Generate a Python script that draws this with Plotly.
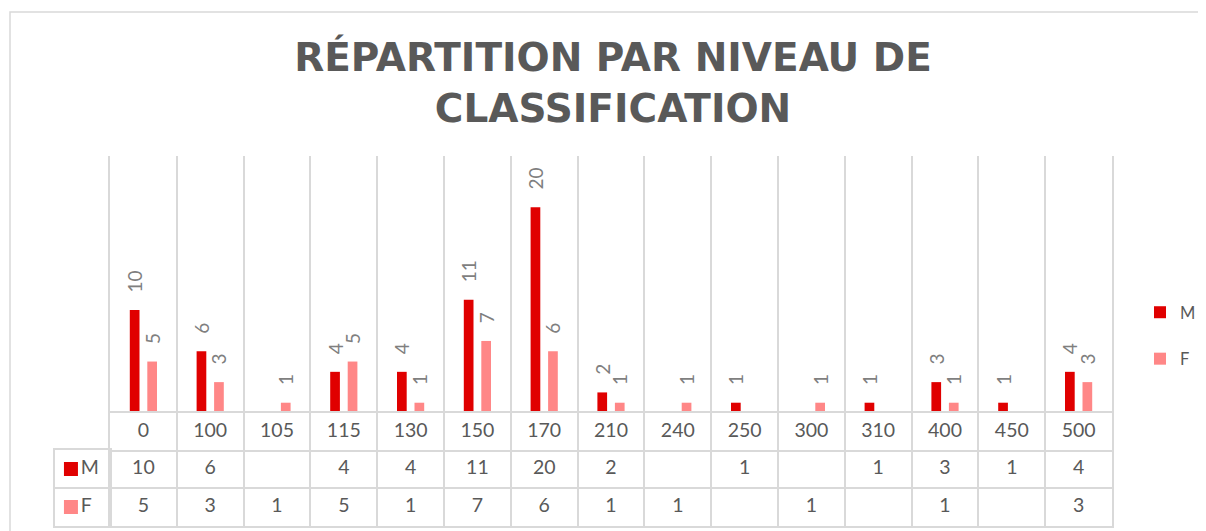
import plotly.graph_objects as go

# ---- data ----
categories = ["0", "100", "105", "115", "130", "150", "170", "210", "240", "250", "300", "310", "400", "450", "500"]
m_values = [10, 6, None, 4, 4, 11, 20, 2, None, 1, None, 1, 3, 1, 4]
f_values = [5, 3, 1, 5, 1, 7, 6, 1, 1, None, 1, None, 1, None, 3]
series_names = ["M", "F"]
title_text = "RÉPARTITION PAR NIVEAU DE<br>CLASSIFICATION"

# ---- style ----
W, H = 1206, 531
OFF = 8  # page body margin
COL_M = "#E00000"
COL_F = "#FF8787"
GRID = "#D9D9D9"
TXT = "#595959"
LBL = "#7F7F7F"
FONT = "Lato"


def fx(px):
    return (px - OFF) / W


def fy(py):
    return 1 - (py - OFF) / H


pad = "\u00a0" * 3


def labels(vals):
    return [pad + str(v) if v is not None else "" for v in vals]


fig = go.Figure()

for name, vals, col in [(series_names[0], m_values, COL_M), (series_names[1], f_values, COL_F)]:
    fig.add_trace(go.Bar(
        x=categories, y=vals, name=name, marker=dict(color=col, line=dict(width=0)),
        text=labels(vals), textposition="outside", textangle=-90,
        constraintext="none", cliponaxis=False,
        outsidetextfont=dict(family=FONT, size=19, color=LBL),
        legendgroup=name, xaxis="x", yaxis="y", hoverinfo="x+y+name",
    ))

# ---- data table ----
row_cat = "Niveau"
fig.add_trace(go.Scatter(
    x=categories, y=[row_cat] * len(categories), text=categories, mode="text",
    textfont=dict(family=FONT, size=19.5, color=TXT), xaxis="x2", yaxis="y2",
    showlegend=False, hoverinfo="skip"))
for name, vals in [(series_names[0], m_values), (series_names[1], f_values)]:
    xs = [c for c, v in zip(categories, vals) if v is not None]
    ts = [str(v) for v in vals if v is not None]
    fig.add_trace(go.Scatter(
        x=xs, y=[name] * len(xs), text=ts, mode="text",
        textfont=dict(family=FONT, size=19.5, color=TXT), xaxis="x2", yaxis="y2",
        showlegend=False, hoverinfo="skip"))

# table legend keys
fig.add_trace(go.Scatter(
    x=[0.29, 0.29], y=series_names, text=series_names, mode="markers+text",
    marker=dict(symbol="square", size=14, color=[COL_M, COL_F], line=dict(width=0)),
    textposition="middle right", textfont=dict(family=FONT, size=19.5, color=TXT),
    xaxis="x3", yaxis="y3", showlegend=False, hoverinfo="skip"))

axis_common = dict(showticklabels=False, ticks="", zeroline=False, fixedrange=True)

fig.update_layout(
    width=W, height=H,
    paper_bgcolor="white", plot_bgcolor="white",
    margin=dict(l=0, r=0, t=0, b=0),
    barmode="group", bargap=0.476, bargroupgap=0.446,
    title=dict(text=title_text, x=fx(613), xanchor="center", xref="paper",
               y=fy(71), yref="container", yanchor="top",
               font=dict(family="DejaVu Sans", size=39, color=TXT, weight="bold")),
    showlegend=True,
    legend=dict(x=fx(1140), xanchor="left", y=fy(295), yanchor="top",
                traceorder="grouped", tracegroupgap=22,
                font=dict(family=FONT, size=16.5, color=TXT), bgcolor="rgba(0,0,0,0)"),
    xaxis=dict(domain=[fx(110), fx(1112)], type="category", categoryorder="array",
               categoryarray=categories, range=[-0.5, len(categories) - 0.5],
               tickson="boundaries", showgrid=True, gridcolor=GRID, gridwidth=2,
               showline=False, **axis_common),
    yaxis=dict(domain=[fy(413), fy(155.7)], range=[0, 25], showgrid=False,
               showline=True, linecolor=GRID, linewidth=2, mirror=True, **axis_common),
    xaxis2=dict(domain=[fx(110), fx(1112)], type="category", categoryorder="array",
                categoryarray=categories, range=[-0.5, len(categories) - 0.5],
                tickson="boundaries", showgrid=True, gridcolor=GRID, gridwidth=2,
                showline=True, linecolor=GRID, linewidth=2, mirror=True,
                anchor="y2", **axis_common),
    yaxis2=dict(domain=[fy(526), fy(413)], type="category", categoryorder="array",
                categoryarray=[series_names[1], series_names[0], row_cat],
                range=[-0.5, 2.5], tickson="boundaries", showgrid=True, gridcolor=GRID,
                gridwidth=2, showline=True, linecolor=GRID, linewidth=2, mirror=True,
                anchor="x2", **axis_common),
    xaxis3=dict(domain=[fx(55), fx(110)], range=[0, 1], showgrid=False,
                showline=True, linecolor=GRID, linewidth=2, mirror=True,
                anchor="y3", **axis_common),
    yaxis3=dict(domain=[fy(526), fy(450)], type="category", categoryorder="array",
                categoryarray=[series_names[1], series_names[0]], range=[-0.5, 1.5],
                tickson="boundaries", showgrid=True, gridcolor=GRID, gridwidth=2,
                showline=True, linecolor=GRID, linewidth=2, mirror=True,
                anchor="x3", **axis_common),
    shapes=[dict(type="rect", xref="paper", yref="paper", x0=fx(10), x1=1.05,
                 y0=-0.05, y1=fy(12), line=dict(color=GRID, width=1.5),
                 fillcolor="rgba(0,0,0,0)", layer="below")],
)

fig.write_html("out.html")
